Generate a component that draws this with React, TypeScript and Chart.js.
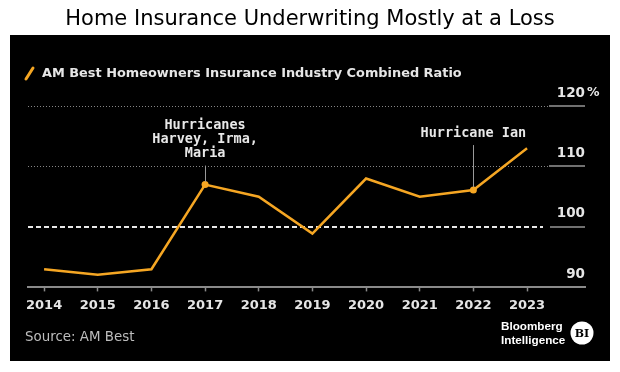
import React, { useEffect, useRef } from 'react';
import { Chart, registerables } from 'chart.js';

Chart.register(...registerables);

// ---- data ----
const TITLE = 'Home Insurance Underwriting Mostly at a Loss';
const SERIES_LABEL = 'AM Best Homeowners Insurance Industry Combined Ratio';
const SOURCE = 'Source: AM Best';
const BRAND_LINES = ['Bloomberg', 'Intelligence'];
const BRAND_BADGE = 'BI';

const years = [2014, 2015, 2016, 2017, 2018, 2019, 2020, 2021, 2022, 2023];
const combinedRatio = [93.0, 92.1, 93.0, 107.0, 105.0, 98.9, 108.0, 105.0, 106.1, 113.0];
const yTicks = [90, 100, 110, 120];
const yUnit = '%';
const breakEven = 100;
const annotationYears = [2017, 2022];
const annotationTexts = [['Hurricanes', 'Harvey, Irma,', 'Maria'], ['Hurricane Ian']];

// ---- layout / style ----
const W = 620;
const H = 372;
const ORANGE = '#F5A623';
const annotationGaps = [31, 57];

export default function App() {
  const ref = useRef<HTMLCanvasElement | null>(null);

  useEffect(() => {
    document.body.style.margin = '0';
    const canvas = ref.current;
    if (!canvas) return;

    const decor = {
      id: 'decor',
      beforeDraw(chart: any) {
        const ctx = chart.ctx;
        ctx.save();
        ctx.fillStyle = '#ffffff';
        ctx.fillRect(0, 0, W, H);
        ctx.fillStyle = '#000000';
        ctx.fillRect(10, 35, 600, 326);
        // title
        ctx.fillStyle = '#000000';
        ctx.font = '21px "DejaVu Sans"';
        ctx.textAlign = 'center';
        ctx.textBaseline = 'middle';
        ctx.fillText(TITLE, 310, 20);
        // legend
        ctx.strokeStyle = ORANGE;
        ctx.lineWidth = 3;
        ctx.lineCap = 'round';
        ctx.beginPath();
        ctx.moveTo(26, 79);
        ctx.lineTo(33, 68);
        ctx.stroke();
        ctx.fillStyle = '#e6e6e6';
        ctx.font = 'bold 12.9px "DejaVu Sans"';
        ctx.textAlign = 'left';
        ctx.fillText(SERIES_LABEL, 42, 74);
        // source
        ctx.fillStyle = '#bdbdbd';
        ctx.font = '13.4px "DejaVu Sans"';
        ctx.fillText(SOURCE, 25, 338);
        // brand
        ctx.fillStyle = '#ffffff';
        ctx.font = 'bold 11.7px "Liberation Sans"';
        ctx.fillText(BRAND_LINES[0], 501, 327);
        ctx.fillText(BRAND_LINES[1], 501, 341);
        ctx.beginPath();
        ctx.arc(582, 333, 11.5, 0, Math.PI * 2);
        ctx.fill();
        ctx.fillStyle = '#000000';
        ctx.font = 'bold 11px "DejaVu Serif"';
        ctx.textAlign = 'center';
        ctx.fillText(BRAND_BADGE, 582, 334);
        ctx.restore();
      },
      beforeDatasetsDraw(chart: any) {
        const ctx = chart.ctx;
        const area = chart.chartArea;
        const ys = chart.scales.y;
        ctx.save();
        yTicks.forEach((v) => {
          if (v === ys.min) return;
          const py = Math.round(ys.getPixelForValue(v));
          if (v === breakEven) {
            ctx.strokeStyle = '#e8e8e8';
            ctx.lineWidth = 2;
            ctx.setLineDash([5, 3]);
            ctx.beginPath();
            ctx.moveTo(area.left, py);
            ctx.lineTo(area.right - 42, py);
            ctx.stroke();
            ctx.setLineDash([]);
            ctx.strokeStyle = '#707070';
            ctx.beginPath();
            ctx.moveTo(area.right - 35, py);
            ctx.lineTo(area.right, py);
            ctx.stroke();
          } else {
            ctx.strokeStyle = '#858585';
            ctx.lineWidth = 1;
            ctx.setLineDash([1, 2]);
            ctx.beginPath();
            ctx.moveTo(area.left, py + 0.5);
            ctx.lineTo(area.right - 36, py + 0.5);
            ctx.stroke();
            ctx.setLineDash([]);
            ctx.strokeStyle = '#707070';
            ctx.lineWidth = 2;
            ctx.beginPath();
            ctx.moveTo(area.right - 36, py);
            ctx.lineTo(area.right, py);
            ctx.stroke();
          }
        });
        ctx.restore();
      },
      afterDatasetsDraw(chart: any) {
        const ctx = chart.ctx;
        const xs = chart.scales.x;
        const ys = chart.scales.y;
        ctx.save();
        annotationYears.forEach((yr, k) => {
          const i = years.indexOf(yr);
          const px = xs.getPixelForValue(yr);
          const py = ys.getPixelForValue(combinedRatio[i]);
          const lines = annotationTexts[k];
          const lastCenter = py - annotationGaps[k];
          ctx.strokeStyle = '#9a9a9a';
          ctx.lineWidth = 1;
          ctx.beginPath();
          ctx.moveTo(Math.round(px) + 0.5, lastCenter + 12);
          ctx.lineTo(Math.round(px) + 0.5, py - 3);
          ctx.stroke();
          ctx.fillStyle = '#e8e8e8';
          ctx.font = 'bold 13.5px "DejaVu Sans Mono"';
          ctx.textAlign = 'center';
          ctx.textBaseline = 'middle';
          lines.forEach((t, j) => {
            ctx.fillText(t, px, lastCenter - (lines.length - 1 - j) * 14);
          });
        });
        // unit sign next to top tick label
        const top = yTicks[yTicks.length - 1];
        ctx.fillStyle = '#e8e8e8';
        ctx.font = 'bold 12.5px "DejaVu Sans"';
        ctx.textAlign = 'left';
        ctx.textBaseline = 'middle';
        ctx.fillText(yUnit, chart.chartArea.right + 2, ys.getPixelForValue(top) - 13);
        ctx.restore();
      },
    };

    const chart = new Chart(canvas, {
      type: 'line',
      data: {
        datasets: [
          {
            label: SERIES_LABEL,
            data: years.map((yr, i) => ({ x: yr, y: combinedRatio[i] })),
            borderColor: ORANGE,
            backgroundColor: ORANGE,
            borderWidth: 2.5,
            tension: 0,
            pointRadius: (c: any) => (annotationYears.includes(years[c.dataIndex]) ? 3.5 : 0),
            pointBackgroundColor: ORANGE,
            pointBorderWidth: 0,
            pointHoverRadius: 0,
          },
        ],
      },
      options: {
        responsive: false,
        animation: false,
        events: [],
        layout: { padding: { top: 106, left: 28, right: 35, bottom: 53 } },
        plugins: {
          legend: { display: false },
          title: { display: false },
          tooltip: { enabled: false },
        },
        scales: {
          x: {
            type: 'linear',
            min: years[0] - 0.3,
            max: years[years.length - 1] + 1.08,
            afterBuildTicks: (s: any) => {
              s.ticks = years.map((v) => ({ value: v }));
            },
            ticks: {
              callback: (v: any) => String(v),
              color: '#e6e6e6',
              font: { family: 'DejaVu Sans', size: 13, weight: 'bold' },
              padding: 6,
              autoSkip: false,
              maxRotation: 0,
            },
            grid: {
              display: true,
              drawOnChartArea: false,
              drawTicks: true,
              tickLength: 4,
              tickColor: '#8a8a8a',
              tickWidth: 1.5,
            },
            border: { display: true, color: '#8a8a8a', width: 2 },
          },
          y: {
            position: 'right',
            min: yTicks[0],
            max: yTicks[yTicks.length - 1],
            afterBuildTicks: (s: any) => {
              s.ticks = yTicks.map((v) => ({ value: v }));
            },
            ticks: {
              mirror: true,
              padding: 0,
              labelOffset: -13,
              color: '#e6e6e6',
              font: { family: 'DejaVu Sans', size: 13.5, weight: 'bold' },
              callback: (v: any) => String(v),
            },
            grid: { display: false, drawTicks: false },
            border: { display: false },
          },
        },
      },
      plugins: [decor],
    } as any);

    return () => chart.destroy();
  }, []);

  return (
    <div style={{ position: 'absolute', left: 0, top: 0, width: W, height: H, background: '#fff' }}>
      <canvas ref={ref} width={W} height={H} style={{ width: W, height: H, display: 'block' }} />
    </div>
  );
}
